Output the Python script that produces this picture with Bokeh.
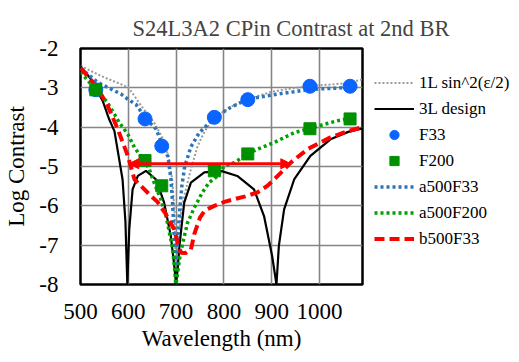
from bokeh.plotting import figure
from bokeh.models import Range1d, FixedTicker, Legend, LegendItem, Arrow, NormalHead
from bokeh.embed import file_html
from bokeh.resources import INLINE

# ---- data ----
wl_meas = [532, 635, 670, 780, 850, 980, 1064]
f33 = [-3.05, -3.79, -4.48, -3.75, -3.30, -2.96, -2.96]
f200 = [-3.05, -4.85, -5.49, -5.11, -4.68, -4.04, -3.79]

wl_1L = [500, 543, 585, 600, 613, 627, 654, 675, 685, 692, 697, 700, 704, 710, 717, 731, 745,
         760, 782, 815, 849, 900, 950, 981, 1020, 1065, 1090]
c_1L = [-2.44, -2.70, -2.91, -2.99, -3.21, -3.46, -3.88, -4.35, -4.8, -5.35, -6.2, -8.0, -7.0,
        -6.2, -5.75, -5.07, -4.48, -4.1, -3.74, -3.48, -3.29, -3.1, -3.0, -2.95, -2.92, -2.87, -2.78]

wl_3L = [500, 520, 536, 547, 560, 571, 580, 588, 594, 598, 602, 609, 620, 637, 658, 675, 689,
         696, 700, 704, 707, 717, 731, 759, 794, 828, 863, 884, 901, 910, 915, 926, 947, 981,
         1023, 1060, 1090]
c_3L = [-2.45, -2.75, -3.1, -3.35, -3.8, -4.1, -4.75, -5.33, -6.4, -8.0, -6.6, -5.58, -5.24,
        -5.11, -5.33, -5.92, -6.77, -7.5, -8.0, -7.5, -7.02, -5.92, -5.41, -5.15, -5.11, -5.24,
        -5.58, -6.26, -7.28, -8.0, -7.02, -6.09, -5.33, -4.73, -4.31, -4.12, -4.03]

wl_a33 = [500, 536, 557, 585, 599, 616, 636, 658, 672, 683, 689, 693, 696, 699, 703, 707, 712,
          718, 731, 748, 782, 814, 849, 912, 981, 1065]
c_a33 = [-2.5, -2.86, -2.99, -3.16, -3.29, -3.42, -3.77, -4.05, -4.46, -4.75, -5.3, -6.0, -6.8,
         -8.0, -6.9, -6.2, -5.5, -5.0, -4.5, -4.15, -3.74, -3.50, -3.29, -3.16, -3.04, -2.99]

wl_a200 = [500, 532, 555, 571, 581, 599, 613, 630, 644, 654, 668, 679, 686, 693, 700, 707, 714,
           724, 738, 755, 769, 787, 801, 822, 850, 870, 905, 947, 981, 1009, 1037, 1065]
c_a200 = [-2.6, -3.05, -3.35, -3.67, -3.88, -4.18, -4.52, -4.8, -5.07, -5.41, -5.83, -6.26, -6.68,
          -7.11, -8.0, -7.36, -6.94, -6.43, -6.05, -5.66, -5.41, -5.24, -4.99, -4.90, -4.68, -4.56,
          -4.39, -4.14, -4.03, -3.93, -3.84, -3.77]

wl_b33 = [500, 533, 557, 578, 599, 613, 627, 645, 661, 678, 696, 703, 710, 720, 731, 738, 750,
          760, 780, 801, 822, 845, 870, 890, 905, 920, 940, 975, 1000, 1023, 1055, 1090]
c_b33 = [-2.5, -2.95, -3.46, -4.05, -4.73, -5.33, -5.5, -5.72, -5.9, -6.2, -6.6, -6.94, -7.19,
         -7.2, -7.11, -6.72, -6.3, -6.12, -6.0, -5.9, -5.83, -5.76, -5.66, -5.5, -5.33, -5.15,
         -4.90, -4.56, -4.4, -4.26, -4.12, -4.0]

arrow_x = [601, 940]
arrow_y = -4.93

x_ticks = [500, 600, 700, 800, 900, 1000]
y_ticks = [-8, -7, -6, -5, -4, -3, -2]

FONT = "Liberation Serif"

p = figure(frame_width=282, frame_height=236, output_backend="svg", toolbar_location=None,
           x_range=Range1d(500, 1090), y_range=Range1d(-8, -2),
           min_border_left=80, min_border_top=48, min_border_bottom=74, min_border_right=0)

p.title.text = "S24L3A2  CPin Contrast  at 2nd BR"
p.title.text_font = FONT
p.title.text_font_size = "22.5px"
p.title.text_font_style = "normal"
p.title.align = "left"
p.title.offset = 52
p.title.standoff = 16

p.xaxis.ticker = FixedTicker(ticks=x_ticks)
p.yaxis.ticker = FixedTicker(ticks=y_ticks)
p.yaxis.major_label_overrides = {t: str(t) for t in y_ticks}
p.xgrid.ticker = FixedTicker(ticks=x_ticks)
p.ygrid.ticker = FixedTicker(ticks=y_ticks)
for g in (p.xgrid, p.ygrid):
    g.grid_line_color = "#858585"
    g.grid_line_width = 1.6

for ax in (p.xaxis, p.yaxis):
    ax.axis_line_color = None
    ax.major_tick_line_color = None
    ax.minor_tick_line_color = None
    ax.major_tick_out = 0
    ax.major_tick_in = 0
    ax.minor_tick_out = 0
    ax.major_label_text_font = FONT
    ax.major_label_text_font_size = "23px"
    ax.major_label_text_color = "black"
    ax.axis_label_text_font = FONT
    ax.axis_label_text_font_size = "23px"
    ax.axis_label_text_font_style = "normal"
    ax.axis_label_text_color = "black"

p.xaxis.axis_label = "Wavelength (nm)"
p.yaxis.axis_label = "Log Contrast"
p.xaxis.major_label_standoff = 19
p.xaxis.axis_label_standoff = 4
p.yaxis.major_label_standoff = 22
p.yaxis.axis_label_standoff = 7

p.outline_line_color = "black"
p.outline_line_width = 2.5
p.background_fill_color = "white"
p.border_fill_color = "white"

r_1L = p.line(wl_1L, c_1L, line_color="#9a9a9a", line_width=2, line_dash="2 2")
r_3L = p.line(wl_3L, c_3L, line_color="black", line_width=2.2)
r_a33 = p.line(wl_a33, c_a33, line_color="#2e75b6", line_width=3.5, line_dash="3 3")
r_a200 = p.line(wl_a200, c_a200, line_color="#00a000", line_width=3.5, line_dash="3 3")
r_b33 = p.line(wl_b33, c_b33, line_color="#ff0000", line_width=4, line_dash="10 5")
r_f33 = p.scatter(wl_meas, f33, marker="circle", size=14, fill_color="#0a64ff", line_color="#0a64ff")
r_f200 = p.scatter(wl_meas, f200, marker="square", size=12, fill_color="#009000", line_color="#009000")

p.add_layout(Arrow(start=NormalHead(size=10, fill_color="red", line_color="red"),
                   end=NormalHead(size=10, fill_color="red", line_color="red"),
                   x_start=arrow_x[0], y_start=arrow_y, x_end=arrow_x[1], y_end=arrow_y,
                   line_color="red", line_width=3))

legend = Legend(items=[
    LegendItem(label="1L sin^2(ε/2)", renderers=[r_1L]),
    LegendItem(label="3L design", renderers=[r_3L]),
    LegendItem(label="F33", renderers=[r_f33]),
    LegendItem(label="F200", renderers=[r_f200]),
    LegendItem(label="a500F33", renderers=[r_a33]),
    LegendItem(label="a500F200", renderers=[r_a200]),
    LegendItem(label="b500F33", renderers=[r_b33]),
], location=(12, 34))
legend.label_text_font = FONT
legend.label_text_font_size = "17px"
legend.label_text_color = "black"
legend.glyph_width = 40
legend.glyph_height = 23
legend.label_height = 23
legend.label_standoff = 5
legend.spacing = 3
legend.padding = 0
legend.margin = 0
legend.border_line_color = None
legend.background_fill_alpha = 0
p.add_layout(legend, "right")

open("out.html", "w").write(file_html(p, INLINE))
